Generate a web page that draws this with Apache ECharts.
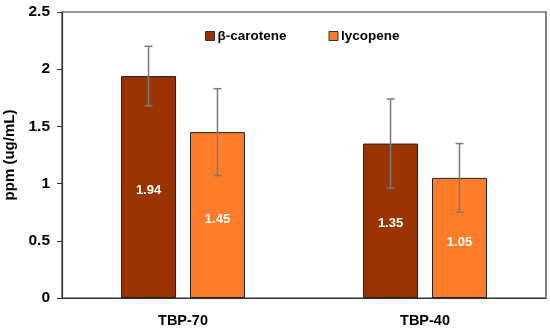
<!DOCTYPE html>
<html><head><meta charset="utf-8">
<script src="https://cdn.jsdelivr.net/npm/echarts@6/dist/echarts.min.js"></script>
<style>html,body{margin:0;padding:0;background:#fff}#c{width:550px;height:329px}</style>
</head><body><div id="c"></div>
<script>
var categories = ['TBP-70', 'TBP-40'];
var seriesNames = ['β-carotene', 'lycopene'];
var betaCarotene = [1.94, 1.35];
var lycopene = [1.45, 1.05];
var betaErr = [0.26, 0.39];
var lycoErr = [0.38, 0.30];
var colors = ['#993300', '#FF7C2B'];

var FONT = 'Liberation Sans, Arial, sans-serif';
var BW = 0.227, GAP = 0.255;

function errSeries(vals, errs, idx) {
  return {
    type: 'custom',
    z: 10,
    silent: true,
    data: vals.map(function (v, i) { return [i, v, errs[i]]; }),
    renderItem: function (params, api) {
      var ci = api.value(0), v = api.value(1), e = api.value(2);
      var band = api.size([1, 0])[0];
      var off = band * BW * (1 + GAP) / 2 * (idx === 0 ? -1 : 1);
      var top = api.coord([ci, v + e]);
      var bot = api.coord([ci, v - e]);
      var x = top[0] + off;
      var cap = 4;
      var st = { stroke: '#7a7a7a', lineWidth: 1.5 };
      return { type: 'group', children: [
        { type: 'line', shape: { x1: x, y1: top[1], x2: x, y2: bot[1] }, style: st },
        { type: 'line', shape: { x1: x - cap, y1: top[1], x2: x + cap, y2: top[1] }, style: st },
        { type: 'line', shape: { x1: x - cap, y1: bot[1], x2: x + cap, y2: bot[1] }, style: st }
      ]};
    }
  };
}

var chart = echarts.init(document.getElementById('c'));
chart.setOption({
  animation: false,
  textStyle: { fontFamily: FONT },
  grid: { left: 62, right: 4, top: 12, bottom: 31, containLabel: false, outerBoundsMode: 'none', show: true, borderColor: '#333', borderWidth: 1.2, backgroundColor: 'transparent' },
  legend: {
    top: 24, left: 200,
    icon: 'rect',
    itemWidth: 9, itemHeight: 9, itemGap: 42,
    data: seriesNames,
    textStyle: { fontFamily: FONT, fontWeight: 'bold', fontSize: 13.5, color: '#000', padding: [0, 0, 0, -2] },
    itemStyle: { borderColor: '#333', borderWidth: 1 }
  },
  xAxis: {
    type: 'category', data: categories,
    axisLine: { lineStyle: { color: '#333', width: 1.2 } },
    axisTick: { show: false },
    axisLabel: { fontFamily: FONT, fontWeight: 'bold', fontSize: 14.5, color: '#000', margin: 15 }
  },
  yAxis: {
    type: 'value', min: 0, max: 2.5, interval: 0.5,
    name: 'ppm (ug/mL)', nameLocation: 'middle', nameGap: 41,
    nameTextStyle: { fontFamily: FONT, fontWeight: 'bold', fontSize: 15, color: '#000' },
    axisLine: { show: true, lineStyle: { color: '#333', width: 1.2 } },
    axisTick: { show: true, inside: false, length: 5, lineStyle: { color: '#333' } },
    splitLine: { show: false },
    axisLabel: { fontFamily: FONT, fontWeight: 'bold', fontSize: 15.5, color: '#000', margin: 12 }
  },
  series: [
    { name: seriesNames[0], type: 'bar', data: betaCarotene, barWidth: (BW * 100) + '%', barGap: (GAP * 100) + '%',
      itemStyle: { color: colors[0], borderColor: '#222', borderWidth: 1 },
      label: { show: true, position: 'inside', offset: [0, 3], color: '#fff', fontFamily: FONT, fontWeight: 'bold', fontSize: 13 } },
    { name: seriesNames[1], type: 'bar', data: lycopene, barWidth: (BW * 100) + '%', barGap: (GAP * 100) + '%',
      itemStyle: { color: colors[1], borderColor: '#222', borderWidth: 1 },
      label: { show: true, position: 'inside', offset: [0, 4], color: '#fff', fontFamily: FONT, fontWeight: 'bold', fontSize: 13 } },
    errSeries(betaCarotene, betaErr, 0),
    errSeries(lycopene, lycoErr, 1)
  ]
});
</script></body></html>
